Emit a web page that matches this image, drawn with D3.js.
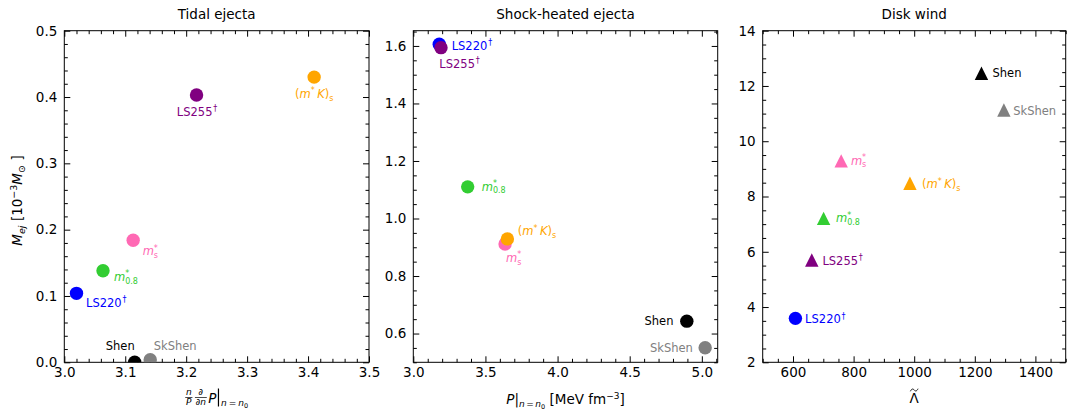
<!DOCTYPE html>
<html>
<head>
<meta charset="utf-8">
<script src="https://cdn.jsdelivr.net/npm/d3@7"></script>
<style>
  body { margin: 0; background: #fff; }
  text { font-family: 'DejaVu Sans', sans-serif; }
</style>
</head>
<body>
<svg id="chart" width="1067" height="410"></svg>
<script>
// models, in drawing order
const models = ['LS220', 'LS255', 'm08', 'ms', 'mKs', 'Shen', 'SkShen']
const colors = ['#0000ff', '#800080', '#32cd32', '#ff69b4', '#ffa500', '#000000', '#808080']

// tidal ejecta vs n/P dP/dn at saturation
const tidalX = [3.020, 3.217, 3.0635, 3.113, 3.410, 3.1155, 3.141]
const tidalY = [0.104, 0.403, 0.138, 0.184, 0.430, 0.0, 0.004]

// shock-heated ejecta vs P at saturation
const shockX = [3.180, 3.192, 3.377, 3.636, 3.652, 4.896, 5.023]
const shockY = [1.606, 1.594, 1.110, 0.9115, 0.929, 0.643, 0.5505]

// disk wind vs tidal deformability
const windX = [608, 662, 701, 759, 986, 1222, 1296]
const windY = [3.59, 5.70, 7.21, 9.29, 8.48, 12.46, 11.13]
const windMarkers = ['circle', 'triangle', 'triangle', 'triangle', 'triangle', 'triangle', 'triangle']

// ticks
const tidalXTicks = [3.0, 3.1, 3.2, 3.3, 3.4, 3.5]
const tidalYTicks = [0.0, 0.1, 0.2, 0.3, 0.4, 0.5]
const shockXTicks = [3.0, 3.5, 4.0, 4.5, 5.0]
const shockYTicks = [0.6, 0.8, 1.0, 1.2, 1.4, 1.6]
const windXTicks = [600, 800, 1000, 1200, 1400]
const windYTicks = [2, 4, 6, 8, 10, 12, 14]

const titles = ['Tidal ejecta', 'Shock-heated ejecta', 'Disk wind']

const svg = d3.select('#chart')
const plotTop = 30.7
const plotBottom = 362.3
const R = 6.7
const tickFont = 13.5
const labelFont = 11.5

// lay out a run of text pieces (sub/superscripts) and measure as we go
function richText(parent, parts, opts) {
  const g = parent.append('g')
  const base = opts.size || 11
  let cx = 0
  let prevStart = 0
  parts.forEach(p => {
    if (p.gap) {
      cx += p.gap
      return
    }
    const start = p.same ? prevStart : cx
    const t = g.append('text')
      .attr('x', start)
      .attr('y', p.dy || 0)
      .attr('font-size', p.s || base)
      .attr('font-style', p.it ? 'italic' : 'normal')
      .attr('fill', opts.color || '#000')
      .text(p.t)
    const w = t.node().getComputedTextLength()
    const end = start + w
    cx = p.same ? Math.max(cx, end) : end
    prevStart = start
  })
  let shift = 0
  if (opts.anchor === 'middle') shift = -cx / 2
  if (opts.anchor === 'end') shift = -cx
  g.attr('transform', `translate(${opts.x + shift},${opts.y})`)
  g.datum(cx)
  return g
}

function labelParts(name) {
  const sup = { s: 8, dy: -4.7 }
  const sub = { s: 8, dy: 2.6 }
  switch (name) {
    case 'LS220': return [{ t: 'LS220' }, { gap: 0.8 }, { t: '†', ...sup }]
    case 'LS255': return [{ t: 'LS255' }, { gap: 0.8 }, { t: '†', ...sup }]
    case 'm08': return [{ t: 'm', it: true }, { t: '*', ...sup }, { t: '0.8', ...sub, same: true }]
    case 'ms': return [{ t: 'm', it: true }, { t: '*', ...sup }, { t: 's', ...sub, same: true }]
    case 'mKs': return [{ t: '(' }, { t: 'm', it: true }, { t: '*', ...sup }, { gap: 2.5 },
      { t: 'K', it: true }, { t: ')' }, { t: 's', ...sub }]
    default: return [{ t: name }]
  }
}

const panels = [
  {
    left: 64.3, right: 369,
    xDomain: [3.0, 3.5], yDomain: [0, 0.5],
    xs: tidalX, ys: tidalY, markers: null,
    xTicks: tidalXTicks, yTicks: tidalYTicks, xMinor: 0.02, yMinor: 0.02,
    xFmt: d3.format('.1f'), yFmt: d3.format('.1f'),
    labels: {
      LS220: [9.5, 13.4, 'start'], LS255: [0.5, 20.7, 'middle'], m08: [11, 10.3, 'start'],
      ms: [9.5, 15, 'start'], mKs: [0, 21, 'middle'], Shen: [0, -12, 'end'], SkShen: [3.5, -9.5, 'start']
    }
  },
  {
    left: 413.3, right: 717.7,
    xDomain: [3.0, 5.11], yDomain: [0.5, 1.653],
    xs: shockX, ys: shockY, markers: null,
    xTicks: shockXTicks, yTicks: shockYTicks, xMinor: 0.1, yMinor: 0.05,
    xFmt: d3.format('.1f'), yFmt: d3.format('.1f'),
    labels: {
      LS220: [12.4, 5.7, 'start'], LS255: [-1.7, 20, 'start'], m08: [14, 4, 'start'],
      mKs: [10.4, -3.7, 'start'], ms: [1, 18, 'start'], Shen: [-13.4, 4.3, 'end'], SkShen: [-12.3, 4.4, 'end']
    }
  },
  {
    left: 762.7, right: 1065.7,
    xDomain: [500, 1500], yDomain: [2, 14],
    xs: windX, ys: windY, markers: windMarkers,
    xTicks: windXTicks, yTicks: windYTicks, xMinor: 50, yMinor: 0.5,
    xFmt: d3.format('d'), yFmt: d3.format('d'),
    labels: {
      Shen: [11, 4, 'start'], SkShen: [9.3, 5, 'start'], ms: [9.7, 4, 'start'], mKs: [12, 5, 'start'],
      m08: [12.4, 4, 'start'], LS255: [10.6, 5, 'start'], LS220: [9.7, 5, 'start']
    }
  }
]

function minorTicks(domain, step, majors) {
  const first = Math.ceil(domain[0] / step - 1e-6)
  const out = []
  for (let i = first; i * step <= domain[1] + 1e-9; i++) {
    const v = +(i * step).toFixed(6)
    if (!majors.some(m => Math.abs(m - v) < step / 10)) out.push(v)
  }
  return out
}

function styleAxis(g) {
  g.select('.domain').remove()
  g.attr('font-size', tickFont).attr('font-family', "'DejaVu Sans', sans-serif")
  g.selectAll('line').attr('stroke', '#000').attr('stroke-width', 1)
  g.selectAll('text').attr('fill', '#000')
}

panels.forEach((p, pi) => {
  const x = d3.scaleLinear().domain(p.xDomain).range([p.left, p.right])
  const y = d3.scaleLinear().domain(p.yDomain).range([plotBottom, plotTop])
  const g = svg.append('g')

  const xMin = minorTicks(p.xDomain, p.xMinor, p.xTicks)
  const yMin = minorTicks(p.yDomain, p.yMinor, p.yTicks)

  // major axes
  g.append('g').attr('transform', `translate(0,${plotBottom})`)
    .call(d3.axisBottom(x).tickValues(p.xTicks).tickFormat(p.xFmt).tickSizeInner(-6).tickSizeOuter(0).tickPadding(5))
    .call(styleAxis)
  g.append('g').attr('transform', `translate(0,${plotTop})`)
    .call(d3.axisTop(x).tickValues(p.xTicks).tickFormat('').tickSizeInner(-6).tickSizeOuter(0))
    .call(styleAxis)
  g.append('g').attr('transform', `translate(${p.left},0)`)
    .call(d3.axisLeft(y).tickValues(p.yTicks).tickFormat(p.yFmt).tickSizeInner(-6).tickSizeOuter(0).tickPadding(7))
    .call(styleAxis)
  g.append('g').attr('transform', `translate(${p.right},0)`)
    .call(d3.axisRight(y).tickValues(p.yTicks).tickFormat('').tickSizeInner(-6).tickSizeOuter(0))
    .call(styleAxis)

  // minor ticks
  g.append('g').attr('transform', `translate(0,${plotBottom})`)
    .call(d3.axisBottom(x).tickValues(xMin).tickFormat('').tickSizeInner(-3.5).tickSizeOuter(0))
    .call(styleAxis)
  g.append('g').attr('transform', `translate(0,${plotTop})`)
    .call(d3.axisTop(x).tickValues(xMin).tickFormat('').tickSizeInner(-3.5).tickSizeOuter(0))
    .call(styleAxis)
  g.append('g').attr('transform', `translate(${p.left},0)`)
    .call(d3.axisLeft(y).tickValues(yMin).tickFormat('').tickSizeInner(-3.5).tickSizeOuter(0))
    .call(styleAxis)
  g.append('g').attr('transform', `translate(${p.right},0)`)
    .call(d3.axisRight(y).tickValues(yMin).tickFormat('').tickSizeInner(-3.5).tickSizeOuter(0))
    .call(styleAxis)

  // frame
  g.append('rect')
    .attr('x', p.left).attr('y', plotTop)
    .attr('width', p.right - p.left).attr('height', plotBottom - plotTop)
    .attr('fill', 'none').attr('stroke', '#000').attr('stroke-width', 1)

  // title
  g.append('text')
    .attr('x', (p.left + p.right) / 2).attr('y', 18.5)
    .attr('text-anchor', 'middle').attr('font-size', tickFont)
    .text(titles[pi])

  // clip for markers
  svg.append('clipPath').attr('id', 'clip' + pi)
    .append('rect')
    .attr('x', p.left).attr('y', plotTop)
    .attr('width', p.right - p.left).attr('height', plotBottom - plotTop)

  const marks = g.append('g').attr('clip-path', `url(#clip${pi})`)
  models.forEach((m, i) => {
    const cx = x(p.xs[i])
    const cy = y(p.ys[i])
    const shape = p.markers ? p.markers[i] : 'circle'
    if (shape === 'circle') {
      marks.append('circle').attr('cx', cx).attr('cy', cy).attr('r', R).attr('fill', colors[i])
    } else {
      marks.append('path')
        .attr('d', `M${cx},${cy - R}L${cx + R},${cy + R}L${cx - R},${cy + R}Z`)
        .attr('fill', colors[i])
    }
  })

  models.forEach((m, i) => {
    const off = p.labels[m]
    richText(g, labelParts(m), {
      x: x(p.xs[i]) + off[0], y: y(p.ys[i]) + off[1],
      anchor: off[2], color: colors[i], size: labelFont
    })
  })
})

// y label (first panel)
const yl = svg.append('g').attr('transform', `translate(22,${(plotTop + plotBottom) / 2 + 4}) rotate(-90)`)
richText(yl, [
  { t: 'M', it: true }, { t: 'ej', it: true, s: 9.5, dy: 2.8 }, { gap: 4.5 },
  { t: '[10' }, { t: '−3', s: 9.5, dy: -5.2 }, { t: 'M', it: true }, { t: '⊙', s: 9.5, dy: 2.8 }, { gap: 4.5 }, { t: ']' }
], { x: 0, y: 0, anchor: 'middle', size: tickFont })

// x label, tidal panel: n/P d/dn P |_{n=n0}
function xLabelTidal() {
  const cxp = (panels[0].left + panels[0].right) / 2
  const base = 402.5
  const barY = 397.5
  let cx = 0
  const items = svg.append('g')
  function frac(num, den) {
    const a = richText(items, num, { x: 0, y: 0, size: 9 })
    const b = richText(items, den, { x: 0, y: 0, size: 9 })
    const wa = a.datum()
    const wb = b.datum()
    const w = Math.max(wa, wb) + 1.5
    a.attr('transform', `translate(${cx + (w - wa) / 2},${barY - 2.2})`)
    b.attr('transform', `translate(${cx + (w - wb) / 2},${barY + 7.8})`)
    items.append('line').attr('x1', cx).attr('x2', cx + w).attr('y1', barY).attr('y2', barY)
      .attr('stroke', '#000').attr('stroke-width', 0.7)
    cx += w
  }
  frac([{ t: 'n', it: true }], [{ t: 'P', it: true }])
  cx += 2.5
  frac([{ t: '∂' }], [{ t: '∂' }, { t: 'n', it: true }])
  cx += 1.5
  const pP = items.append('text').attr('x', cx).attr('y', base).attr('font-size', tickFont)
    .attr('font-style', 'italic').text('P')
  cx += pP.node().getComputedTextLength() + 2
  items.append('line').attr('x1', cx).attr('x2', cx).attr('y1', 388.5).attr('y2', 406.5)
    .attr('stroke', '#000').attr('stroke-width', 1.2)
  cx += 2.5
  const s = richText(items, [
    { t: 'n', it: true }, { gap: 2 }, { t: '=' }, { gap: 2 }, { t: 'n', it: true }, { t: '0', s: 6.5, dy: 2 }
  ], { x: cx, y: base + 3, size: 9 })
  cx += s.datum()
  items.attr('transform', `translate(${cxp - cx / 2},0)`)
}
xLabelTidal()

// x label, shock panel
richText(svg, [
  { t: 'P', it: true }, { t: '|' }, { t: 'n', it: true, s: 9, dy: 3 }, { gap: 1.5 }, { t: '=', s: 9, dy: 3 },
  { gap: 1.5 }, { t: 'n', it: true, s: 9, dy: 3 }, { t: '0', s: 6.5, dy: 5 }, { gap: 4.5 },
  { t: '[MeV fm' }, { t: '−3', s: 9, dy: -5 }, { t: ']' }
], { x: (panels[1].left + panels[1].right) / 2, y: 403.5, anchor: 'middle', size: tickFont })

// x label, wind panel: Lambda with a drawn tilde on top
const lx = (panels[2].left + panels[2].right) / 2
svg.append('text').attr('x', lx).attr('y', 403).attr('text-anchor', 'middle')
  .attr('font-size', tickFont).text('Λ')
svg.append('path')
  .attr('d', `M${lx - 3.8},${391.3} C${lx - 2.5},${388.3} ${lx - 1},${388.8} ${lx},${390} S${lx + 2.5},${391.7} ${lx + 3.8},${388.7}`)
  .attr('fill', 'none').attr('stroke', '#000').attr('stroke-width', 0.9)
</script>
</body>
</html>
